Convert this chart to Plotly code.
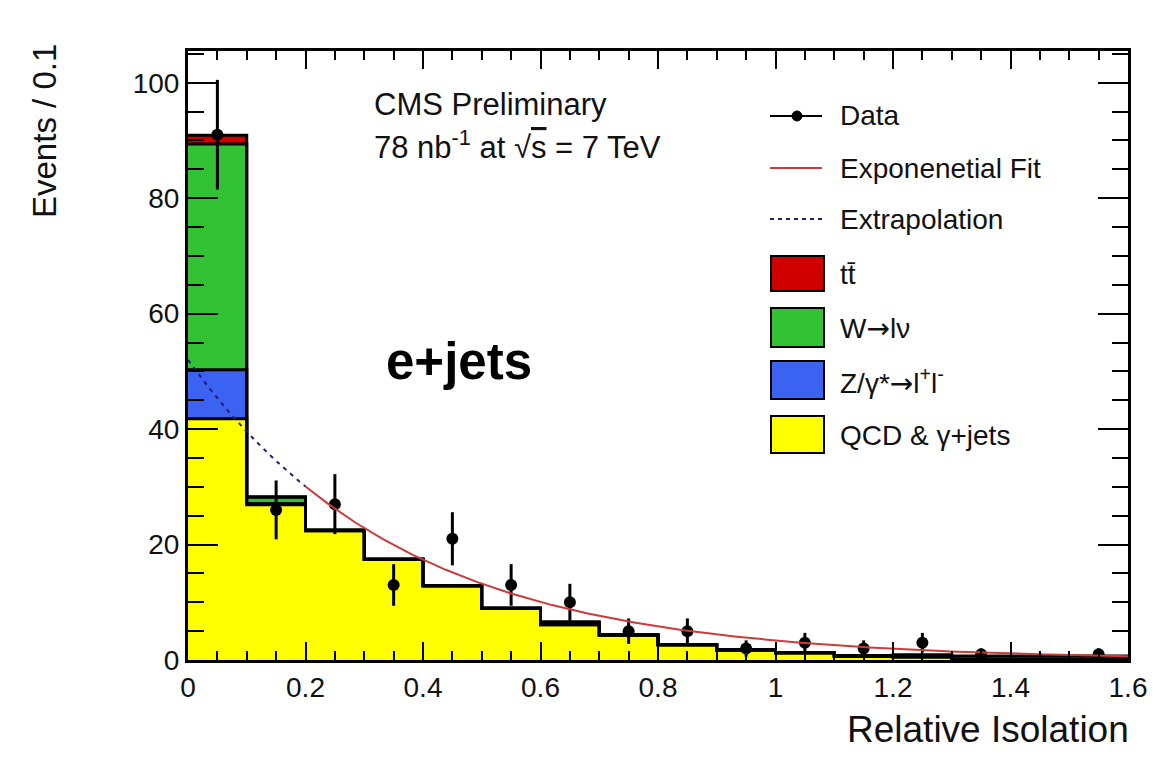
import numpy as np
import plotly.graph_objects as go

# Relative isolation binning (width 0.1)
bin_edges = [0.0, 0.1, 0.2, 0.3, 0.4, 0.5, 0.6, 0.7, 0.8, 0.9, 1.0, 1.1, 1.2, 1.3, 1.4, 1.5, 1.6]
bin_centers = [0.05, 0.15, 0.25, 0.35, 0.45, 0.55, 0.65, 0.75, 0.85, 0.95, 1.05, 1.15, 1.25, 1.35, 1.45, 1.55]

# Simulated contributions (events / 0.1), stacked bottom to top
qcd_gamma_jets = [41.8, 26.9, 22.4, 17.4, 12.8, 8.9, 6.1, 4.3, 2.6, 1.7, 1.2, 0.6, 0.5, 0.1, 0.1, 0.1]
z_gamma_ll = [8.5, 0.2, 0.0, 0.0, 0.0, 0.0, 0.0, 0.0, 0.0, 0.0, 0.0, 0.0, 0.0, 0.0, 0.0, 0.0]
w_lnu = [39.1, 1.1, 0.1, 0.1, 0.1, 0.1, 0.5, 0.1, 0.1, 0.1, 0.1, 0.1, 0.1, 0.0, 0.0, 0.0]
ttbar = [1.5, 0.1, 0.0, 0.0, 0.0, 0.0, 0.0, 0.0, 0.0, 0.0, 0.0, 0.1, 0.3, 0.6, 0.6, 0.6]

# Observed events and their statistical uncertainties
data_counts = [91, 26, 27, 13, 21, 13, 10, 5, 5, 2, 3, 2, 3, 1, 0, 1]
data_errors = [9.5, 5.1, 5.2, 3.6, 4.6, 3.6, 3.2, 2.2, 2.2, 1.4, 1.7, 1.4, 1.7, 1.0, 0.0, 1.0]

# Exponential fit N(x) = norm * exp(-slope * x), fitted above x = 0.2
fit_norm = 52.0
fit_slope = 2.74
fit_start = 0.2
x_max = 1.6
y_max = 105.5

FONT = "Liberation Sans, Arial, Helvetica, sans-serif"
INK = "#111111"
ARROW = "<span style='font-family:DejaVu Sans'>→</span>"

layers = [
    ("QCD & γ+jets", qcd_gamma_jets, "#ffff00"),
    ("Z/γ*→l⁺l⁻", z_gamma_ll, "#3b62f0"),
    ("W→lν", w_lnu, "#33c233"),
    ("tt̄", ttbar, "#d00000"),
]

fig = go.Figure()

# Stacked histogram fills
for name, vals, col in layers:
    fig.add_trace(go.Bar(
        x=bin_centers, y=vals, width=0.1, name=name,
        marker=dict(color=col, line=dict(color=col, width=0.5)),
        showlegend=False, hoverinfo="skip",
    ))

# Step outline on top of each stacked layer
cum = np.zeros(len(bin_centers))
for name, vals, col in layers:
    cum = cum + np.array(vals)
    fig.add_trace(go.Scatter(
        x=bin_edges, y=list(cum) + [cum[-1]], mode="lines",
        line=dict(color="black", width=3, shape="hv"),
        showlegend=False, hoverinfo="skip",
    ))

# Data points with error bars (empty bins are not drawn)
dx = [x for x, n in zip(bin_centers, data_counts) if n > 0]
dy = [n for n in data_counts if n > 0]
de = [e for e, n in zip(data_errors, data_counts) if n > 0]
fig.add_trace(go.Scatter(
    x=dx, y=dy, mode="markers", name="Data",
    marker=dict(color="black", size=12),
    error_y=dict(type="data", array=de, visible=True, color="black", thickness=3, width=0),
    showlegend=False,
))

# Extrapolation of the fit into the signal region
x_ext = np.linspace(0.0, fit_start, 60)
fig.add_trace(go.Scatter(
    x=x_ext, y=fit_norm * np.exp(-fit_slope * x_ext), mode="lines",
    line=dict(color="#1c1c7a", width=2, dash="4px,5px"),
    showlegend=False, hoverinfo="skip",
))
# Exponential fit
x_fit = np.linspace(fit_start, x_max, 300)
fig.add_trace(go.Scatter(
    x=x_fit, y=fit_norm * np.exp(-fit_slope * x_fit), mode="lines",
    line=dict(color="#cc3a3a", width=2),
    showlegend=False, hoverinfo="skip",
))

# ---- figure geometry (pixels) ----
W, H = 1163, 764
L, R, T, B = 188, 35, 51, 104
PW, PH = W - L - R, H - T - B


def px(xp):
    return (xp - L) / PW


def py(yp):
    return (H - B - yp) / PH


shapes = []
annotations = []

# Hand-built legend
lx0, lx1, ltx = px(770), px(822), px(838)
legend_font = dict(family=FONT, size=28, color=INK)

y_data = py(116)
shapes.append(dict(type="line", xref="paper", yref="paper", x0=lx0, x1=lx1, y0=y_data, y1=y_data,
                   line=dict(color="black", width=2)))
r = 5
shapes.append(dict(type="circle", xref="paper", yref="paper",
                   x0=px(797 - r), x1=px(797 + r), y0=py(116 + r), y1=py(116 - r),
                   fillcolor="black", line=dict(color="black", width=1)))
annotations.append(dict(text="Data", x=ltx, y=y_data))

y_fit = py(168)
shapes.append(dict(type="line", xref="paper", yref="paper", x0=lx0, x1=lx1, y0=y_fit, y1=y_fit,
                   line=dict(color="#cc3a3a", width=2)))
annotations.append(dict(text="Exponenetial Fit", x=ltx, y=y_fit))

y_ext = py(219)
shapes.append(dict(type="line", xref="paper", yref="paper", x0=lx0, x1=lx1, y0=y_ext, y1=y_ext,
                   line=dict(color="#1c1c7a", width=2, dash="4px,4px")))
annotations.append(dict(text="Extrapolation", x=ltx, y=y_ext))

box_rows = [
    ("tt\u0304", "#d00000", 256, 291),
    ("W" + ARROW + "lν", "#33c233", 308, 347),
    ("Z/γ*" + ARROW + "l<sup>+</sup>l<sup>-</sup>", "#3b62f0", 361, 399),
    ("QCD &amp; γ+jets", "#ffff00", 416, 453),
]
for label, col, top, bot in box_rows:
    shapes.append(dict(type="rect", xref="paper", yref="paper",
                       x0=px(771), x1=px(824), y0=py(bot), y1=py(top),
                       fillcolor=col, line=dict(color="black", width=2)))
    annotations.append(dict(text=label, x=ltx, y=py((top + bot) / 2 + 1)))

for a in annotations:
    a.update(xref="paper", yref="paper", xanchor="left", yanchor="middle",
             showarrow=False, font=legend_font)

# Plot labels
annotations += [
    dict(text="CMS Preliminary", x=px(372), y=py(104), xref="paper", yref="paper",
         xanchor="left", yanchor="middle", showarrow=False,
         font=dict(family=FONT, size=31, color=INK)),
    dict(text="78 nb<sup>-1</sup> at √<span style='text-decoration:overline'>s</span> = 7 TeV",
         x=px(372), y=py(145), xref="paper", yref="paper",
         xanchor="left", yanchor="middle", showarrow=False,
         font=dict(family=FONT, size=31, color=INK)),
    dict(text="<b>e+jets</b>", x=px(459), y=py(361), xref="paper", yref="paper",
         xanchor="center", yanchor="middle", showarrow=False,
         font=dict(family=FONT, size=51, color="black")),
    dict(text="Events / 0.1", x=px(45), y=py(131), xref="paper", yref="paper",
         xanchor="center", yanchor="middle", textangle=-90, showarrow=False,
         font=dict(family=FONT, size=33, color=INK)),
    dict(text="Relative Isolation", x=px(1131), y=py(729), xref="paper", yref="paper",
         xanchor="right", yanchor="middle", showarrow=False,
         font=dict(family=FONT, size=37, color=INK)),
]

fig.update_layout(
    width=W, height=H,
    margin=dict(l=L, r=R, t=T, b=B, pad=0),
    paper_bgcolor="white", plot_bgcolor="white",
    barmode="stack", bargap=0,
    showlegend=False,
    shapes=shapes, annotations=annotations,
    font=dict(family=FONT, color=INK),
)
fig.update_xaxes(
    range=[0, x_max], dtick=0.2, tick0=0,
    showgrid=False, zeroline=False,
    showline=True, linecolor="black", linewidth=3, mirror="ticks",
    ticks="inside", ticklen=18, tickwidth=2, tickcolor="black",
    minor=dict(dtick=0.05, ticks="inside", ticklen=9, tickwidth=2, tickcolor="black", showgrid=False),
    tickfont=dict(family=FONT, size=28, color=INK),
)
fig.update_yaxes(
    range=[0, y_max], dtick=20, tick0=0,
    showgrid=False, zeroline=False,
    showline=True, linecolor="black", linewidth=3, mirror="ticks",
    ticks="inside", ticklen=30, tickwidth=2, tickcolor="black",
    minor=dict(dtick=5, ticks="inside", ticklen=16, tickwidth=2, tickcolor="black", showgrid=False),
    tickfont=dict(family=FONT, size=28, color=INK),
)

fig.write_html("out.html")
